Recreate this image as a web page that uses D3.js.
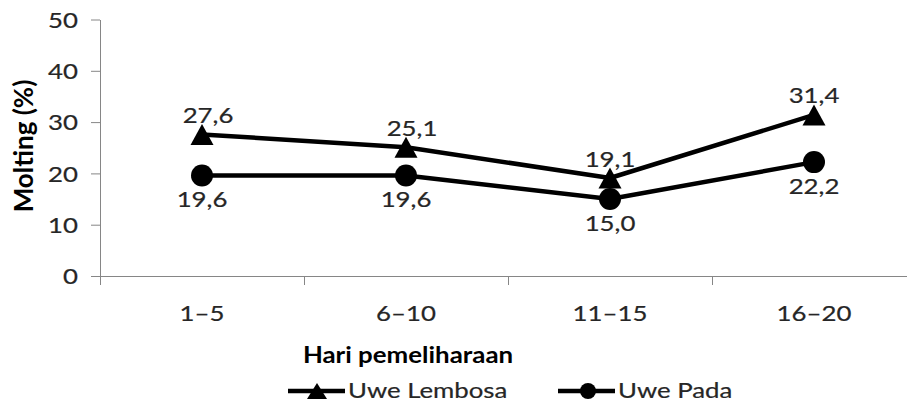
<!DOCTYPE html>
<html><head><meta charset="utf-8">
<script src="https://cdn.jsdelivr.net/npm/d3@7"></script>
<style>body{margin:0;background:#fff} svg{display:block}</style>
</head><body>
<svg id="c" width="907" height="403"></svg>
<script>
// ---- data ----
const categories = ["1–5", "6–10", "11–15", "16–20"];
const uweLembosa = [27.6, 25.1, 19.1, 31.4];
const uwePada = [19.6, 19.6, 15.0, 22.2];
const yTicks = [0, 10, 20, 30, 40, 50];
const seriesNames = ["Uwe Lembosa", "Uwe Pada"];
const yTitle = "Molting (%)";
const xTitle = "Hari pemeliharaan";

const SX = 1.2;               // horizontal stretch of the original picture
const FONT = "Lato, 'Open Sans', sans-serif";
const TXT = "#262626";
const fmt = v => d3.format(".1f")(v).replace(".", ",");

const svg = d3.select("#c");
const x = d3.scaleBand().domain(categories).range([100, 916]);
const y = d3.scaleLinear().domain([0, 50]).range([276, 19.5]);
const cx = c => x(c) + x.bandwidth() / 2;
const axisColor = "#868686";

function heavy(sel, size) {
  return sel.attr("font-family", FONT).attr("font-size", size).attr("fill", TXT)
    .attr("stroke", TXT).attr("stroke-width", 0.2);
}

// y axis
const gy = svg.append("g").attr("transform", "translate(100,0)")
  .call(d3.axisLeft(y).tickValues(yTicks).tickSize(9).tickSizeOuter(0));
gy.select(".domain").attr("stroke", axisColor);
gy.selectAll(".tick line").attr("stroke", axisColor);
heavy(gy.selectAll(".tick text")
  .attr("x", null).attr("dy", "0.36em")
  .attr("transform", `translate(-22,0) scale(${SX},1)`), 21.5);

// x axis (labels at band centres)
const gx = svg.append("g").attr("transform", "translate(0,276)")
  .call(d3.axisBottom(x).tickSize(0).tickSizeOuter(0));
gx.select(".domain").remove();
heavy(gx.selectAll(".tick text")
  .attr("y", null).attr("dy", null)
  .attr("transform", `translate(0,45) scale(${SX},1)`), 21.5);
// x axis line + boundary ticks
const bounds = categories.map(c => x(c)).concat([x.range()[1]]);
svg.append("line").attr("x1", 91).attr("x2", x.range()[1]).attr("y1", y(0) + 0.5).attr("y2", y(0) + 0.5)
  .attr("stroke", axisColor);
svg.append("g").selectAll("line").data(bounds).join("line")
  .attr("x1", d => d + 0.5).attr("x2", d => d + 0.5)
  .attr("y1", y(0)).attr("y2", y(0) + 9).attr("stroke", axisColor);

// lines
const line = d3.line().x((d, i) => cx(categories[i])).y(d => y(d));
[uweLembosa, uwePada].forEach(s => {
  svg.append("path").datum(s).attr("d", line)
    .attr("fill", "none").attr("stroke", "#000").attr("stroke-width", 4.5)
    .attr("stroke-linejoin", "round");
});

const tri = (w, h) => `M0,${-h / 2}L${w / 2},${h / 2}L${-w / 2},${h / 2}Z`;

// markers
svg.append("g").selectAll("path").data(uweLembosa).join("path")
  .attr("d", tri(23, 21))
  .attr("transform", (d, i) => `translate(${cx(categories[i])},${y(d)})`)
  .attr("fill", "#000");
svg.append("g").selectAll("circle").data(uwePada).join("circle")
  .attr("cx", (d, i) => cx(categories[i])).attr("cy", d => y(d)).attr("r", 11)
  .attr("fill", "#000");

// data labels
heavy(svg.append("g").selectAll("text").data(uweLembosa).join("text")
  .attr("transform", (d, i) => `translate(${cx(categories[i]) + (i < 2 ? 6 : 0)},${y(d) - 11.5}) scale(${SX},1)`)
  .attr("text-anchor", "middle"), 21.5)
  .text(fmt);
heavy(svg.append("g").selectAll("text").data(uwePada).join("text")
  .attr("transform", (d, i) => `translate(${cx(categories[i])},${y(d) + 32}) scale(${SX},1)`)
  .attr("text-anchor", "middle"), 21.5)
  .text(fmt);

// axis titles
svg.append("text")
  .attr("transform", `translate(33,146) rotate(-90)`)
  .attr("text-anchor", "middle").attr("font-family", FONT).attr("font-weight", "bold")
  .attr("font-size", 26).attr("fill", "#000").text(yTitle);
svg.append("text")
  .attr("transform", `translate(408,363) scale(1.15,1)`)
  .attr("text-anchor", "middle").attr("font-family", FONT).attr("font-weight", "bold")
  .attr("font-size", 22.5).attr("fill", "#000").text(xTitle);

// legend
const legend = [
  { name: seriesNames[0], x0: 288, shape: "tri" },
  { name: seriesNames[1], x0: 558, shape: "circle" }
];
const lg = svg.append("g").selectAll("g").data(legend).join("g")
  .attr("transform", d => `translate(${d.x0},391)`);
lg.append("line").attr("x1", 0).attr("x2", 57).attr("stroke", "#000").attr("stroke-width", 4.5);
lg.filter(d => d.shape === "tri").append("path").attr("d", tri(20, 16)).attr("transform", "translate(29,0)");
lg.filter(d => d.shape === "circle").append("circle").attr("cx", 30).attr("r", 8);
heavy(lg.append("text").attr("transform", `translate(60,6.5) scale(${SX},1)`), 21.5)
  .text(d => d.name);
</script>
</body></html>
